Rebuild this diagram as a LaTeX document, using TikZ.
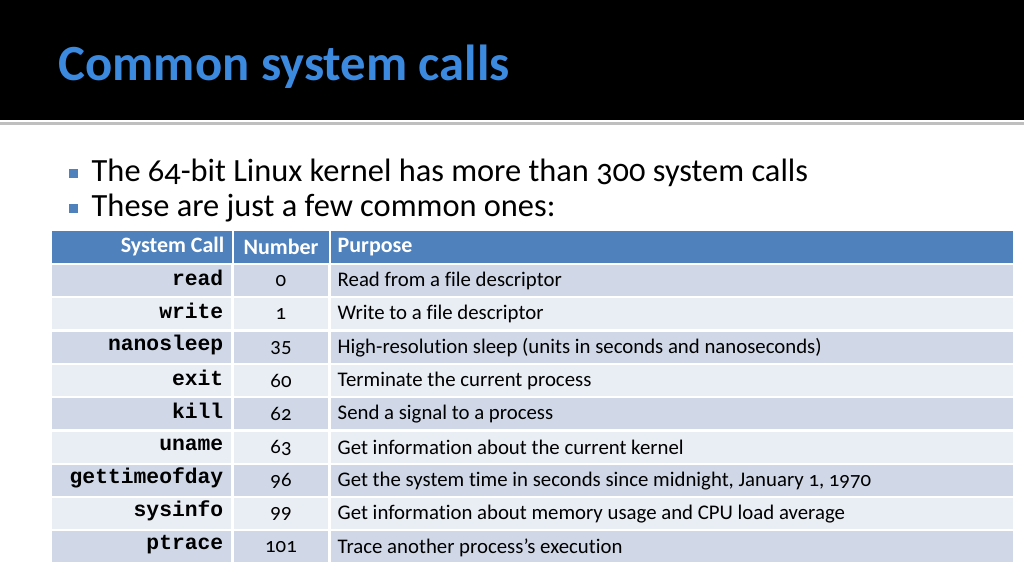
\documentclass[tikz,border=0pt]{standalone}
\usepackage{fontspec}
\setmainfont{Carlito}[Numbers=OldStyle,Ligatures=NoCommon]
\setmonofont{Liberation Mono}
\definecolor{hdr}{HTML}{4F81BD}
\definecolor{rowa}{HTML}{D0D8E8}
\definecolor{rowb}{HTML}{E9EDF4}
\definecolor{ttl}{HTML}{3C8AE0}
\begin{document}
\begin{tikzpicture}[x=0.75pt,y=-0.75pt,
  cellc/.style={anchor=east,font=\ttfamily\bfseries\fontsize{16}{18}\selectfont},
  celln/.style={anchor=center,font=\fontsize{15.6}{18}\selectfont},
  cellp/.style={anchor=west,font=\fontsize{15.6}{18}\selectfont},
  hd/.style={text=white,font=\bfseries\fontsize{16.5}{18}\selectfont},
  bul/.style={anchor=west,font=\fontsize{24.3}{28}\selectfont}]
\useasboundingbox (0,0) rectangle (1024,576);
\fill[white] (0,0) rectangle (1024,576);
\fill[black] (0,0) rectangle (1024,120);
\fill[black!25] (0,122) rectangle (1024,125);
\node[anchor=west,text=ttl,font=\bfseries\fontsize{38}{44}\selectfont] (title) at (54,67) {Common system calls};
\fill[hdr] (69,169) rectangle (78,178);
\fill[hdr] (69,204) rectangle (78,213);
\node[bul] (b1) at (87,173) {The 64-bit Linux kernel has more than 300 system calls};
\node[bul] (b2) at (87,208) {These are just a few common ones:};
% header
\fill[hdr] (52,231) rectangle (1013,263);
\draw[white,line width=1.5pt] (232.5,231) -- (232.5,263) (329.5,231) -- (329.5,263);
\node[hd,anchor=east] (h1) at (229,247) {System Call};
\node[hd,anchor=center] (h2) at (281,247) {Number};
\node[hd,anchor=west] (h3) at (333,247) {Purpose};
\foreach \c/\n/\p [count=\i from 0] in {read/0/Read from a file descriptor,
 write/1/Write to a file descriptor,
 nanosleep/35/High-resolution sleep (units in seconds and nanoseconds),
 exit/60/Terminate the current process,
 kill/62/Send a signal to a process,
 uname/63/Get information about the current kernel,
 gettimeofday/96/{Get the system time in seconds since midnight, January 1, 1970},
 sysinfo/99/Get information about memory usage and CPU load average,
 ptrace/101/Trace another process\symbol{39}s execution}{
  \pgfmathsetmacro{\yt}{265+33.3*\i}
  \pgfmathsetmacro{\yb}{\yt+31}
  \pgfmathsetmacro{\ym}{\yt+16}
  \pgfmathtruncatemacro{\odd}{mod(\i,2)}
  \ifnum\odd=0 \def\rc{rowa}\else\def\rc{rowb}\fi
  \fill[\rc] (52,\yt) rectangle (231,\yb);
  \fill[\rc] (234,\yt) rectangle (328,\yb);
  \fill[\rc] (331,\yt) rectangle (1013,\yb);
  \node[cellc] (c\i) at (228,\ym-3) {\c};
  \node[celln] (n\i) at (281,\ym) {\n};
  \node[cellp] (p\i) at (333,\ym) {\p};
}
\end{tikzpicture}
\end{document}
